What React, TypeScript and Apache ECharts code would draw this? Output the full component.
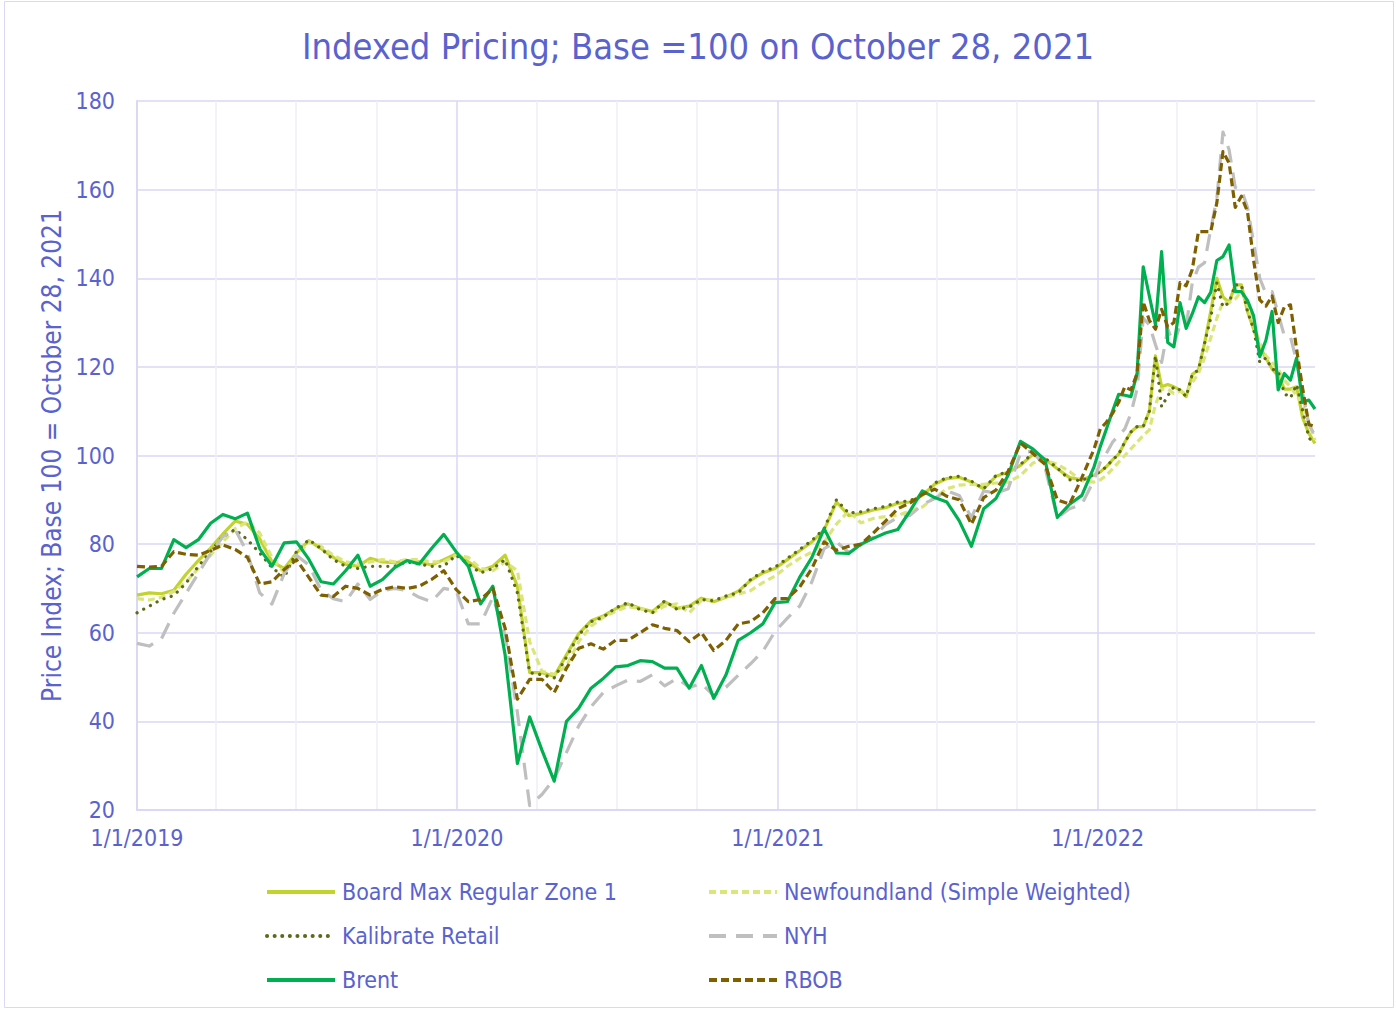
import React, { useEffect, useRef } from 'react';
import * as echarts from 'echarts';

// ---------- DATA ----------
const START_DATE = '2019-01-01';
const BIWEEKLY_COUNT = 79; // 2019-01-01 .. 2021-12-28, every 14 days
const WEEKLY_COUNT = 36; // 2022-01-04 .. 2022-09-06, every 7 days

const YEAR_TICKS = ['2019-01-01', '2020-01-01', '2021-01-01', '2022-01-01'];
const GRID_TICKS = [
  '2019-01-01', '2019-04-01', '2019-07-01', '2019-10-01',
  '2020-01-01', '2020-04-01', '2020-07-01', '2020-10-01',
  '2021-01-01', '2021-04-01', '2021-07-01', '2021-10-01',
  '2022-01-01', '2022-04-01', '2022-07-01',
];
const AXIS_END = '2022-09-06';

const Y_MIN = 20;
const Y_MAX = 180;
const Y_STEP = 20;

const BOARD_MAX = [
  68.5, 69, 68.8, 69.6, 73.2, 76.3, 79.1, 82.3, 85.2, 84.5, 81.2, 76, 74.5, 78, 80.8, 79, 77,
  75.5, 75, 76.8, 76, 75.8, 76.3, 76, 75.3, 76.5, 77.8, 76, 74, 75, 77.5, 70.5, 51,
  51, 50.2, 55, 59.8, 62.7, 63.8, 65.4, 66.5, 65.5, 64.8, 67, 65.5, 66, 67.8, 67, 68, 69.4,
  71.8, 73.5, 74.5, 76.5, 78.5, 80.5, 83.2, 89.5, 86.5, 86.9, 87.7, 88.2, 89.2, 89.5, 91,
  93.5, 94.8, 95.1, 94, 92.5, 95.3, 96.2, 97.8, 100.2, 99.2, 97, 95, 94.5, 95.6,
  96.3, 97.5, 99, 100.3, 103, 105.3, 106.5, 106.5, 110, 122.5, 115.5, 116, 115.5, 114.8, 113.3,
  118.3, 119.3, 125.3, 132.5, 140, 135.8, 134.5, 138.5, 138.5, 132.5, 128.5, 124.5, 122, 119.5,
  118, 115, 115, 115.5, 108.5, 105, 102.7,
];

const NEWFOUNDLAND = [
  67.7, 67.4, 68, 69.3, 71.5, 74.5, 77.5, 80.5, 83.5, 85, 82.5, 77, 73.5, 77.5, 80.5, 79.5, 77.5,
  76, 75.5, 76, 76.5, 76, 76.5, 76.5, 76, 76, 77.5, 77, 74.5, 74, 76, 74, 58,
  51.3, 50.6, 52.5, 58, 61.5, 63.5, 64.8, 65.9, 65.5, 64.5, 66, 66.5, 64.5, 67.3, 67.5, 68, 68.7,
  69.5, 71.3, 72.8, 75, 76.8, 78.2, 80.5, 84.5, 87.5, 84.8, 85.8, 86.2, 86.5, 87.5, 88.4,
  90.5, 92.5, 93.3, 93.5, 93.5, 93.8, 94, 95.5, 98.3, 99, 98, 96.4, 94.3, 94,
  94.5, 95.5, 97, 98.5, 100, 101.5, 103, 104.5, 105.8, 111.5, 115, 115, 114, 114.5, 114,
  116.5, 118.5, 122, 126.5, 131, 134.7, 134.5, 135.3, 137, 134, 129.5, 125.5, 122.5, 121,
  119.5, 117, 115.5, 113.5, 111.5, 107.5, 103.5,
];

const KALIBRATE = [
  64.5, 66, 67.5, 68.4, 71.2, 75, 78.4, 81.7, 83.3, 81, 78, 74.7, 72.5, 78.3, 81, 79, 76.5,
  75, 74.5, 75, 75, 75, 76, 75.5, 75, 75, 77.5, 75.5, 73.5, 74.5, 76.5, 69, 51,
  50.5, 49.8, 54.5, 59.5, 62.5, 63.5, 65.6, 66.8, 65.2, 64.5, 67.2, 65.3, 65.8, 67.5, 67.2, 68.3, 69,
  72, 73.8, 74.8, 76.8, 78.8, 80.8, 83.5, 90, 87, 87.3, 88, 88.5, 89.5, 89.8, 91,
  93.8, 95, 95.3, 94.2, 92.5, 95.5, 96.4, 98, 100.5, 99.4, 97.2, 94.5, 94.3, 95.8,
  96.3, 97.5, 99, 100.3, 103, 105.3, 106.5, 106.5, 110, 122.5, 111, 113.5, 115.5, 114.8, 113.3,
  118.3, 119.3, 125.3, 131, 139, 133.5, 134.5, 138.5, 138.5, 132.5, 128.5, 121, 122, 119.5,
  119, 114, 113, 116, 110, 104, 102.5,
];

const NYH = [
  57.6, 57, 58.7, 64.4, 68.9, 73.4, 77.9, 81.7, 83.3, 78, 69, 66.5, 73.4, 77.5, 75.3, 69.6, 67.7,
  67, 71, 67.5, 69.5, 70, 69.5, 68, 67, 70, 69.5, 62, 62, 68, 59.5, 42, 21,
  23.5, 27, 33, 39, 43.3, 46.5, 48, 49.3, 49, 50.5, 48, 49.7, 47.7, 48.5, 45.8, 47.7, 50.4,
  53, 55.8, 60.3, 63.3, 66, 71.5, 79, 80.5, 78.1, 79.8, 81.5, 84.4, 86, 86.5, 88.9,
  90.3, 92, 91, 86, 92, 91.5, 92.5, 100.5, 101, 97.3, 86, 88, 89, 94.5,
  98.5, 100.5, 103, 104.5, 106, 109.5, 115, 131, 129.5, 125, 121, 128.5, 125, 129.5, 129,
  139, 142.5, 143.5, 151, 158, 173, 169, 160.5, 160, 156, 148, 140, 136.5, 137,
  132, 127, 126.8, 121.3, 114, 107, 104.5,
];

const BRENT = [
  72.6, 74.5, 74.5, 81, 79.2, 81, 84.7, 86.7, 85.7, 87, 79, 75, 80.3, 80.5, 76.6, 71.5, 71,
  74, 77.5, 70.5, 72, 74.7, 76.3, 75.5, 79, 82.2, 78.3, 75, 66.5, 70.5, 55, 30.5, 41,
  33.5, 26.5, 40, 43, 47.5, 49.7, 52.3, 52.6, 53.7, 53.5, 52, 52, 47.5, 52.6, 45.2, 50.5, 58.3,
  60, 62, 66.8, 67, 72.5, 77, 83.5, 78, 77.9, 80, 81.3, 82.5, 83.3, 87.5, 92,
  90.5, 89.5, 85.3, 79.5, 88, 90.3, 95.6, 103.2, 101.5, 99, 86, 89, 91, 97.5,
  102, 106, 110, 113.8, 113.6, 113.3, 118.5, 142.6, 136, 129.5, 146, 125.5, 124.5, 134.5, 128.7,
  132, 135.8, 134.5, 136.8, 144, 144.9, 147.5, 137, 137, 135, 131.5, 122.3, 126, 132.5,
  114.8, 118.5, 117, 122, 112, 112.5, 110.5,
];

const RBOB = [
  75, 74.8, 75, 78.3, 77.7, 77.5, 78.6, 79.8, 78.8, 77, 71, 71.5, 74.3, 76.5, 72.5, 68.5, 68.2,
  70.5, 70, 68.5, 69.8, 70.4, 70, 70.5, 72, 74, 69.8, 67, 67.5, 70, 61, 45, 49.5,
  49.5, 46.5, 52, 56.5, 57.5, 56.3, 58.3, 58.3, 60, 61.8, 61, 60.5, 58, 60, 56, 58.3, 62,
  62.5, 64.5, 67.7, 67.7, 70.3, 74.5, 80.5, 78.6, 79.5, 80, 82.5, 85.2, 88, 89.3, 91.2,
  92.4, 90.8, 90, 84.5, 90.5, 92.2, 96.5, 102.8, 100.5, 98, 90, 89, 95, 101.5,
  106, 107.5, 109.5, 112, 115.5, 114.8, 118.5, 134.7, 130.5, 128.5, 133, 129, 130, 139, 138.3,
  142, 150.5, 150.5, 150.5, 157, 168.6, 166, 156, 158.5, 155, 144, 135.1, 133.7, 136,
  130, 133.5, 134, 124, 115, 107, 106.5,
];

const SERIES_NAMES = [
  'Board Max Regular Zone 1',
  'Newfoundland (Simple Weighted)',
  'Kalibrate Retail',
  'NYH',
  'Brent',
  'RBOB',
];

// ---------- HELPERS ----------
const DAY_MS = 86400000;
const START_MS = Date.parse(START_DATE + 'T00:00:00Z');
const toDay = (s: string) => Math.round((Date.parse(s + 'T00:00:00Z') - START_MS) / DAY_MS);
const dayLabel = (d: number) => {
  const dt = new Date(START_MS + Math.round(d) * DAY_MS);
  return `${dt.getUTCMonth() + 1}/${dt.getUTCDate()}/${dt.getUTCFullYear()}`;
};

const SAMPLE_DAYS: number[] = [];
for (let i = 0; i < BIWEEKLY_COUNT; i++) SAMPLE_DAYS.push(i * 14);
for (let k = 1; k <= WEEKLY_COUNT; k++) SAMPLE_DAYS.push((BIWEEKLY_COUNT - 1) * 14 + k * 7);

const TEXT_COLOR = '#5A62CF';
const FONT = "'DejaVu Sans Condensed', 'DejaVu Sans', sans-serif";
const GRID_MAJOR = '#D9D9F3';
const GRID_MINOR = '#EEEEFA';

const STYLES = [
  { color: '#C3D32D', type: 'solid' as any, cap: 'butt' },
  { color: '#DCE57A', type: [7, 4], cap: 'butt' },
  { color: '#5E6A1B', type: [0.1, 7.5], cap: 'round' },
  { color: '#BFBFBF', type: [17, 10], cap: 'butt' },
  { color: '#00B050', type: 'solid' as any, cap: 'butt' },
  { color: '#7F6000', type: [8, 4], cap: 'butt' },
];

const VALUES = [BOARD_MAX, NEWFOUNDLAND, KALIBRATE, NYH, BRENT, RBOB];

export default function App() {
  const ref = useRef<HTMLDivElement>(null);

  useEffect(() => {
    if (!ref.current) return;
    const chart = echarts.init(ref.current, undefined, { renderer: 'svg' });

    const series = SERIES_NAMES.map((name, si) => ({
      name,
      type: 'line',
      symbol: 'none',
      showSymbol: false,
      data: SAMPLE_DAYS.map((d, i) => [d, VALUES[si][i]]),
      lineStyle: {
        color: STYLES[si].color,
        width: 3.2,
        type: STYLES[si].type,
        cap: STYLES[si].cap,
        join: 'round',
      },
      itemStyle: { color: STYLES[si].color },
      emphasis: { disabled: true },
    }));

    const legendCommon = {
      orient: 'vertical',
      top: 880,
      padding: 0,
      itemWidth: 68,
      itemHeight: 14,
      itemGap: 20,
      selectedMode: false,
      itemStyle: { opacity: 0 },
      lineStyle: { width: 4 },
      textStyle: {
        color: TEXT_COLOR,
        fontFamily: FONT,
        fontSize: 23,
        lineHeight: 24,
        padding: [0, 0, 0, 2],
      },
    };

    chart.setOption({
      animation: false,
      backgroundColor: '#FFFFFF',
      textStyle: { fontFamily: FONT },
      title: {
        text: 'Indexed Pricing; Base =100 on October 28, 2021',
        left: 'center',
        top: 23,
        textStyle: {
          color: TEXT_COLOR,
          fontFamily: FONT,
          fontSize: 36,
          fontWeight: 'normal',
        },
      },
      legend: [
        { ...legendCommon, left: 265, data: [SERIES_NAMES[0], SERIES_NAMES[2], SERIES_NAMES[4]] },
        { ...legendCommon, left: 707, data: [SERIES_NAMES[1], SERIES_NAMES[3], SERIES_NAMES[5]] },
      ],
      grid: { left: 137, right: 81, top: 101, bottom: 201, containLabel: false },
      xAxis: {
        type: 'value',
        min: 0,
        max: toDay(AXIS_END),
        axisLine: { show: true, lineStyle: { color: GRID_MAJOR, width: 2 } },
        axisTick: { show: false, customValues: GRID_TICKS.map(toDay) },
        axisLabel: {
          customValues: YEAR_TICKS.map(toDay),
          formatter: (v: number) => dayLabel(v),
          color: TEXT_COLOR,
          fontFamily: FONT,
          fontSize: 23,
          margin: 16,
        },
        splitLine: {
          show: true,
          lineStyle: { color: [GRID_MAJOR, GRID_MINOR, GRID_MINOR, GRID_MINOR], width: 1.5 },
        },
      },
      yAxis: {
        type: 'value',
        min: Y_MIN,
        max: Y_MAX,
        interval: Y_STEP,
        name: 'Price Index; Base 100 = October 28, 2021',
        nameLocation: 'middle',
        nameGap: 68,
        nameRotate: 90,
        nameTextStyle: { color: TEXT_COLOR, fontFamily: FONT, fontSize: 26 },
        axisLine: { show: true, lineStyle: { color: GRID_MAJOR, width: 2 } },
        axisTick: { show: false },
        axisLabel: { color: TEXT_COLOR, fontFamily: FONT, fontSize: 23, margin: 22 },
        splitLine: { show: true, lineStyle: { color: GRID_MAJOR, width: 1.5 } },
      },
      graphic: [
        {
          type: 'rect',
          shape: { x: 4.5, y: 1.5, width: 1389, height: 1006 },
          style: { fill: 'none', stroke: GRID_MAJOR, lineWidth: 1 },
          silent: true,
          z: -10,
        },
      ],
      series,
    });

    return () => chart.dispose();
  }, []);

  return (
    <div
      ref={ref}
      style={{ position: 'absolute', left: 0, top: 0, width: 1396, height: 1011 }}
    />
  );
}
